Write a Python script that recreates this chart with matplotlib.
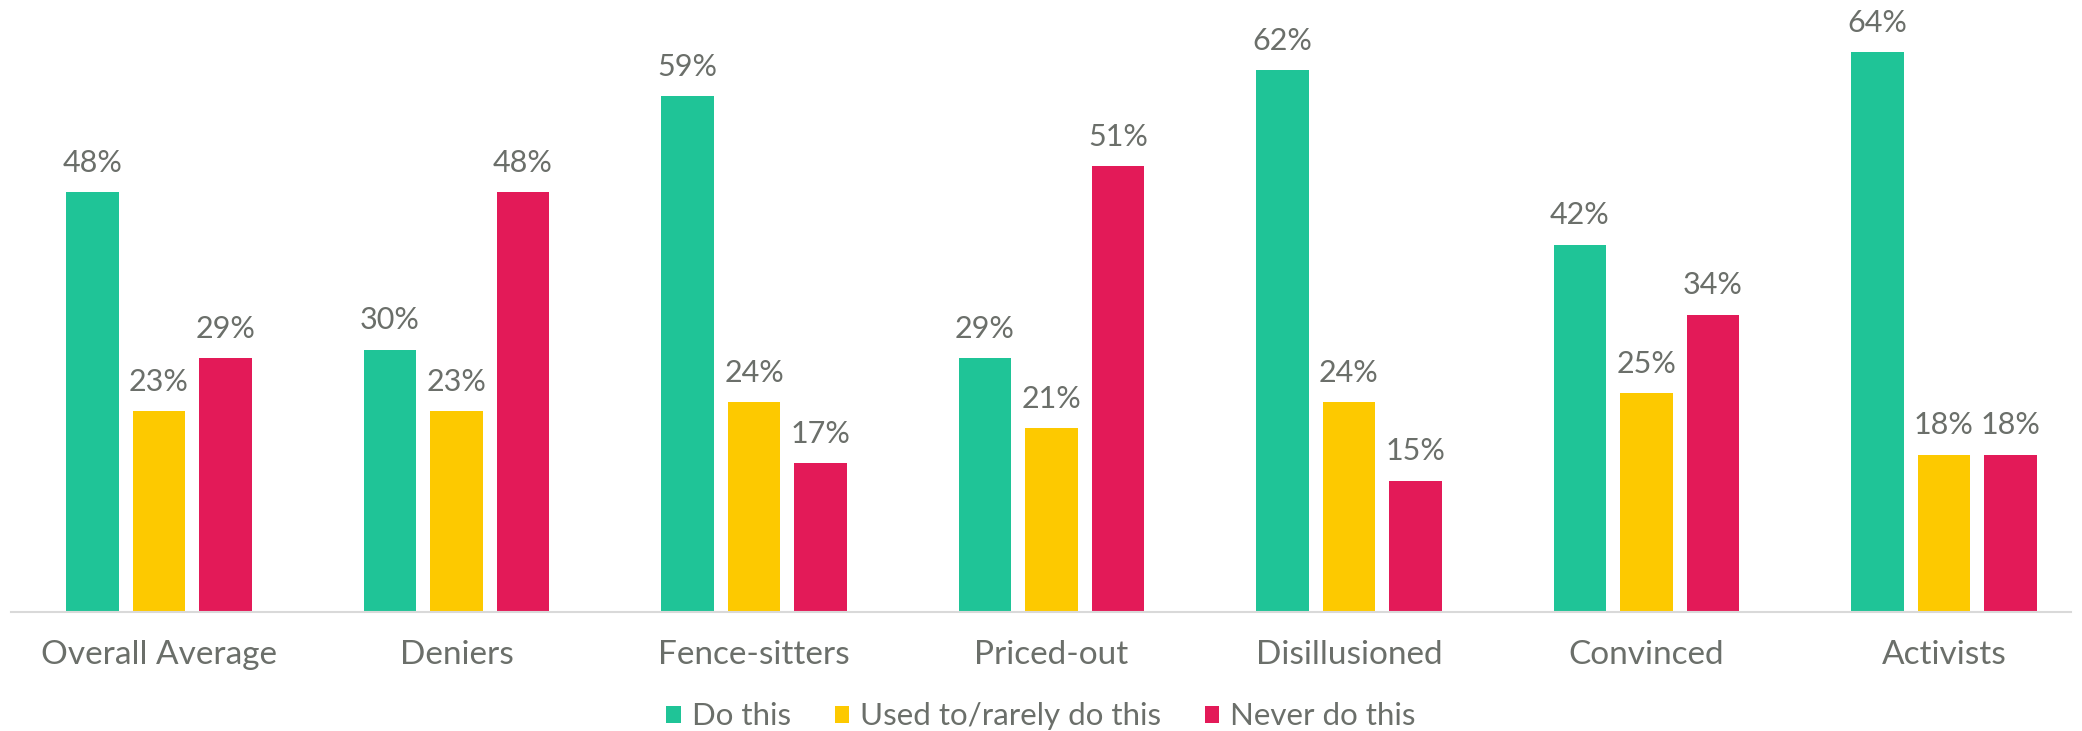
import matplotlib
matplotlib.use("Agg")
import matplotlib.pyplot as plt
from matplotlib.patches import Patch
import numpy as np

categories = ["Overall Average", "Deniers", "Fence-sitters", "Priced-out",
              "Disillusioned", "Convinced", "Activists"]
do_this = [48, 30, 59, 29, 62, 42, 64]
used_to = [23, 23, 24, 21, 24, 25, 18]
never = [29, 48, 17, 51, 15, 34, 18]
series_names = ["Do this", "Used to/rarely do this", "Never do this"]
colors = ["#1FC497", "#FDC900", "#E31A58"]
text_color = "#6B6F6A"

plt.rcParams["font.family"] = ["Lato", "DejaVu Sans"]

W, H = 2082, 731
fig = plt.figure(figsize=(W / 100, H / 100), dpi=100)
left_px, right_px = 10.6, 2071
ax = fig.add_axes([left_px / W, 0.163, (right_px - left_px) / W, 0.837])

x = np.arange(len(categories))
bar_w = 0.175
step = 0.2235
for i, (vals, c) in enumerate(zip([do_this, used_to, never], colors)):
    pos = x + (i - 1) * step
    bars = ax.bar(pos, vals, width=bar_w, color=c, zorder=2)
    for b, v in zip(bars, vals):
        ax.annotate(f"{v}%", (b.get_x() + b.get_width() / 2, v),
                    xytext=(0, 11), textcoords="offset points",
                    ha="center", va="bottom", fontsize=22, color=text_color)

group_px = 297.5
center0_px = 159
ax.set_xlim((left_px - center0_px) / group_px, (right_px - center0_px) / group_px)
ax.set_ylim(0, 70)
ax.set_xticks(x)
ax.set_xticklabels(categories, fontsize=24, color=text_color)
ax.tick_params(axis="x", length=0, pad=20)
ax.set_yticks([])
for s in ["top", "left", "right"]:
    ax.spines[s].set_visible(False)
ax.spines["bottom"].set_color("#D9D9D9")
ax.spines["bottom"].set_linewidth(1.5)

handles = [Patch(facecolor=c, edgecolor="none") for c in colors]
leg = fig.legend(handles, series_names, loc="center", bbox_to_anchor=(0.5, 0.02),
                 ncol=3, frameon=False, fontsize=22.5, handlelength=0.47,
                 handleheight=0.47, handletextpad=0.34, columnspacing=1.4,
                 borderpad=0, borderaxespad=0)
for t in leg.get_texts():
    t.set_color(text_color)

fig.savefig("out.png", dpi=100, facecolor="white")
